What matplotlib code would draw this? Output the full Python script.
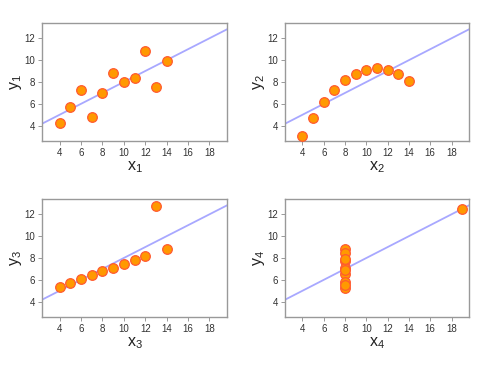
import matplotlib
matplotlib.use("Agg")
import matplotlib.pyplot as plt
import numpy as np

plt.rcParams['font.family'] = ['Liberation Sans', 'DejaVu Sans']

x123 = [10, 8, 13, 9, 11, 14, 6, 4, 12, 7, 5]
y1 = [8.04, 6.95, 7.58, 8.81, 8.33, 9.96, 7.24, 4.26, 10.84, 4.82, 5.68]
y2 = [9.14, 8.14, 8.74, 8.77, 9.26, 8.10, 6.13, 3.10, 9.13, 7.26, 4.74]
y3 = [7.46, 6.77, 12.74, 7.11, 7.81, 8.84, 6.08, 5.39, 8.15, 6.42, 5.73]
x4 = [8, 8, 8, 8, 8, 8, 8, 19, 8, 8, 8]
y4 = [6.58, 5.76, 7.71, 8.84, 8.47, 7.04, 5.25, 12.50, 5.56, 7.91, 6.89]

datasets = [(x123, y1), (x123, y2), (x123, y3), (x4, y4)]
xticks = [4, 6, 8, 10, 12, 14, 16, 18]
yticks = [4, 6, 8, 10, 12]

W, H = 492, 367
fig = plt.figure(figsize=(W / 100, H / 100), dpi=100)

boxes = [(42, 23, 227, 141), (285, 23, 469, 141), (42, 199, 227, 317), (285, 199, 469, 317)]

for i, ((xs, ys), (l, t, r, b)) in enumerate(zip(datasets, boxes)):
    ax = fig.add_axes([l / W, 1 - b / H, (r - l) / W, (b - t) / H])
    ax.set_xlim(2.36, 19.64)
    ax.set_ylim(2.6, 13.4)
    xs_a = np.array(xs, float)
    ys_a = np.array(ys, float)
    slope, intercept = np.polyfit(xs_a, ys_a, 1)
    ax.axline((0, intercept), slope=slope, color='#a8a8ff', lw=1.3, zorder=1)
    ax.scatter(xs_a, ys_a, s=48, facecolor='#ff9900', edgecolor='#ff5a30',
               linewidths=0.9, zorder=3, clip_on=False)
    ax.set_xticks(xticks)
    ax.set_yticks(yticks)
    ax.tick_params(direction='out', length=3, width=0.7, color='#999999',
                   labelsize=7, labelcolor='#333333', pad=2)
    for sp in ax.spines.values():
        sp.set_color('#999999')
        sp.set_linewidth(1.0)
    n = i + 1
    ax.set_xlabel(r'$\mathregular{x_%d}$' % n, fontsize=11.5, labelpad=1, color='#222222')
    ax.set_ylabel(r'$\mathregular{y_%d}$' % n, fontsize=11.5, labelpad=0, color='#222222')

fig.savefig('out.png', dpi=100)
